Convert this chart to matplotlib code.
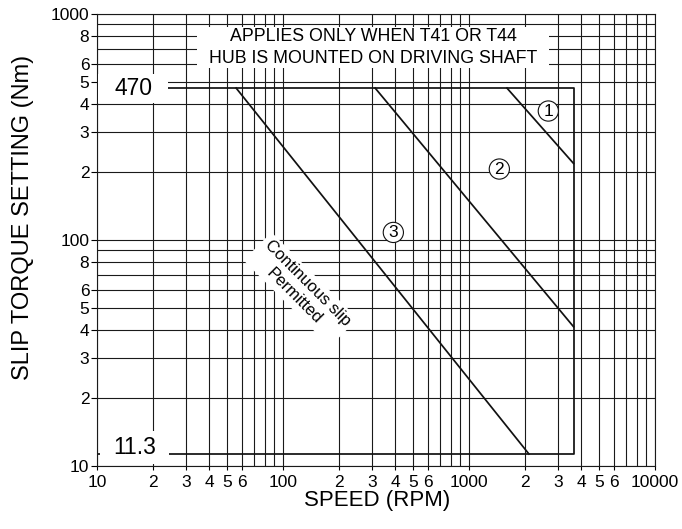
import matplotlib
matplotlib.use("Agg")
import matplotlib.pyplot as plt
from matplotlib.path import Path

plt.rcParams['font.family'] = ['Liberation Sans', 'DejaVu Sans']

# ---------------- data ----------------
speed_tick_values = [10, 20, 30, 40, 50, 60, 100, 200, 300, 400, 500, 600,
                     1000, 2000, 3000, 4000, 5000, 6000, 10000]
speed_tick_labels = ['10', '2', '3', '4', '5', '6', '100', '2', '3', '4', '5', '6',
                     '1000', '2', '3', '4', '5', '6', '10000']
speed_minor_values = [70, 80, 90, 700, 800, 900, 7000, 8000, 9000]

torque_tick_values = [10, 20, 30, 40, 50, 60, 80, 100, 200, 300, 400, 500, 600, 800, 1000]
torque_tick_labels = ['10', '2', '3', '4', '5', '6', '8', '100', '2', '3', '4', '5', '6', '8', '1000']
torque_minor_values = [70, 90, 700, 900]

max_torque = 470
min_torque = 11.3
max_speed = 3650

envelope_speed = [10, max_speed, max_speed, 10]
envelope_torque = [max_torque, max_torque, min_torque, min_torque]

curve1_speed = [1600, max_speed]
curve1_torque = [max_torque, 218]
curve2_speed = [313, max_speed]
curve2_torque = [max_torque, 41.3]
curve3_speed = [56, 2100]
curve3_torque = [max_torque, min_torque]

note_text = "APPLIES ONLY WHEN T41 OR T44\nHUB IS MOUNTED ON DRIVING SHAFT"
slip_text = "Continuous slip\nPermitted"


def rect_box(padx, pady):
    """Rectangular text box with separate x / y padding (pixels)."""
    def style(x0, y0, width, height, mutation_size):
        x1, y1 = x0 + width + padx, y0 + height + pady
        xa, ya = x0 - padx, y0 - pady
        return Path([(xa, ya), (x1, ya), (x1, y1), (xa, y1), (xa, ya)], closed=True)
    return style


fig = plt.figure(figsize=(6.82, 5.29), dpi=100)
ax = fig.add_axes([0.1422, 0.1191, 0.8182, 0.8545])
ax.set_xscale('log')
ax.set_yscale('log')
ax.set_xlim(10, 10000)
ax.set_ylim(10, 1000)

ax.set_xticks(speed_tick_values)
ax.set_xticklabels(speed_tick_labels)
ax.set_xticks(speed_minor_values, minor=True)
ax.set_xticklabels([], minor=True)
ax.set_yticks(torque_tick_values)
ax.set_yticklabels(torque_tick_labels)
ax.set_yticks(torque_minor_values, minor=True)
ax.set_yticklabels([], minor=True)

ax.tick_params(axis='x', which='major', direction='out', length=2.6, width=0.8,
               labelsize=12.5, pad=4.0, color='black')
ax.tick_params(axis='y', which='major', direction='out', length=4.3, width=0.8,
               labelsize=12.5, pad=1.2, color='black')
ax.tick_params(which='minor', length=0)

ax.set_axisbelow(True)
ax.grid(True, which='both', color='#1a1a1a', linewidth=0.8)
for sp in ax.spines.values():
    sp.set_linewidth(0.8)
    sp.set_color('#1a1a1a')

lw = 1.25
ax.plot(envelope_speed, envelope_torque, color='#111111', lw=lw, zorder=2)
ax.plot(curve1_speed, curve1_torque, color='#111111', lw=lw, zorder=2)
ax.plot(curve2_speed, curve2_torque, color='#111111', lw=lw, zorder=2)
ax.plot(curve3_speed, curve3_torque, color='#111111', lw=lw, zorder=2)

# value labels on the envelope
ax.text(15.7, max_torque, "470", fontsize=16.5, ha='center', va='center', zorder=4,
        bbox=dict(boxstyle=rect_box(16, 3), fc='white', ec='none'))
ax.text(15.9, min_torque, "11.3", fontsize=16.5, ha='center', va='baseline', zorder=4,
        bbox=dict(boxstyle=rect_box(13, 5), fc='white', ec='none'))

# note at top
ax.text(305, 711, note_text, fontsize=12.8, ha='center', va='center',
        multialignment='center', linespacing=1.45, zorder=4,
        bbox=dict(boxstyle=rect_box(12, 1), fc='white', ec='none'))

# rotated continuous slip note
ax.text(124.5, 60.4, slip_text, fontsize=12, ha='center', va='center',
        multialignment='center', rotation=-45, rotation_mode='anchor',
        linespacing=1.3, zorder=4,
        bbox=dict(boxstyle=rect_box(4, 3), fc='white', ec='none'))

# circled curve numbers
for label, (sx, ty) in zip(['1', '2', '3'], [(2670, 372), (1456, 206), (392, 108)]):
    ax.text(sx, ty, label, fontsize=12.5, ha='center', va='center', zorder=5,
            bbox=dict(boxstyle='circle,pad=0.15', fc='white', ec='#111111', lw=0.8))

ax.set_xlabel("SPEED (RPM)", fontsize=16)
ax.xaxis.set_label_coords(0.502, -0.077)
ax.xaxis.label.set_va('center')
ax.set_ylabel("SLIP TORQUE SETTING (Nm)", fontsize=17)
ax.yaxis.set_label_coords(-0.132, 0.55)
ax.yaxis.label.set_va('center')

fig.savefig("out.png", dpi=100)
